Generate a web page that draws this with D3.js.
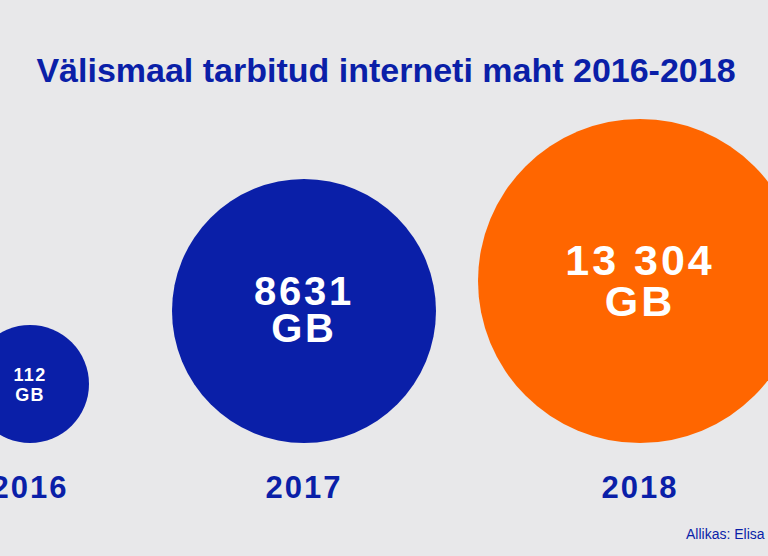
<!DOCTYPE html>
<html><head><meta charset="utf-8">
<script src="https://cdn.jsdelivr.net/npm/d3@7"></script>
<style>body{margin:0;background:#e8e8ea;overflow:hidden}</style>
</head><body><div id="chart"></div>
<script>
const years = ['2016', '2017', '2018']
const values = [112, 8631, 13304]
const labels = ['112', '8631', '13 304']
const fills = ['#0a1fa8', '#0a1fa8', '#ff6600']

const W = 768, H = 556, baseY = 443
const svg = d3.select('#chart').append('svg').attr('width', W).attr('height', H)
  .style('font-family', 'Arial, "Liberation Sans", sans-serif')

let x = d3.scaleOrdinal().domain(years).range([30, 304, 640])
let r = d3.scaleLinear().domain(values).range([59, 132, 162])
let fs = d3.scaleLinear().domain(values).range([18, 40, 43])
let gap = d3.scaleLinear().domain(values).range([20, 37, 41])

svg.append('text').attr('x', 386).attr('y', 82).attr('text-anchor', 'middle')
  .attr('font-size', 34).attr('font-weight', 'bold').attr('fill', '#0a1fa8')
  .text('Välismaal tarbitud interneti maht 2016-2018')

let data = years.map((y, i) => ({year: y, value: values[i], label: labels[i], fill: fills[i]}))
let g = svg.selectAll('g.b').data(data).join('g')

g.append('circle')
  .attr('cx', d => x(d.year)).attr('cy', d => baseY - r(d.value)).attr('r', d => r(d.value))
  .attr('fill', d => d.fill)

let lab = d => g.append('text').attr('text-anchor', 'middle').attr('fill', 'white').attr('font-weight', 'bold')
  .attr('font-size', d => fs(d.value)).attr('letter-spacing', d => fs(d.value) * 0.07)
  .attr('x', d => x(d.year))

lab().attr('y', d => baseY - r(d.value) - gap(d.value) * 0.15).text(d => d.label)
lab().attr('y', d => baseY - r(d.value) + gap(d.value) * 0.85).text('GB')

g.append('text').attr('text-anchor', 'middle').attr('fill', '#0a1fa8').attr('font-weight', 'bold')
  .attr('font-size', 31).attr('letter-spacing', 2).attr('x', d => x(d.year)).attr('y', 498)
  .text(d => d.year)

svg.append('text').attr('x', 686).attr('y', 539).attr('font-size', 14).attr('fill', '#0a1fa8')
  .text('Allikas: Elisa')
</script></body></html>
